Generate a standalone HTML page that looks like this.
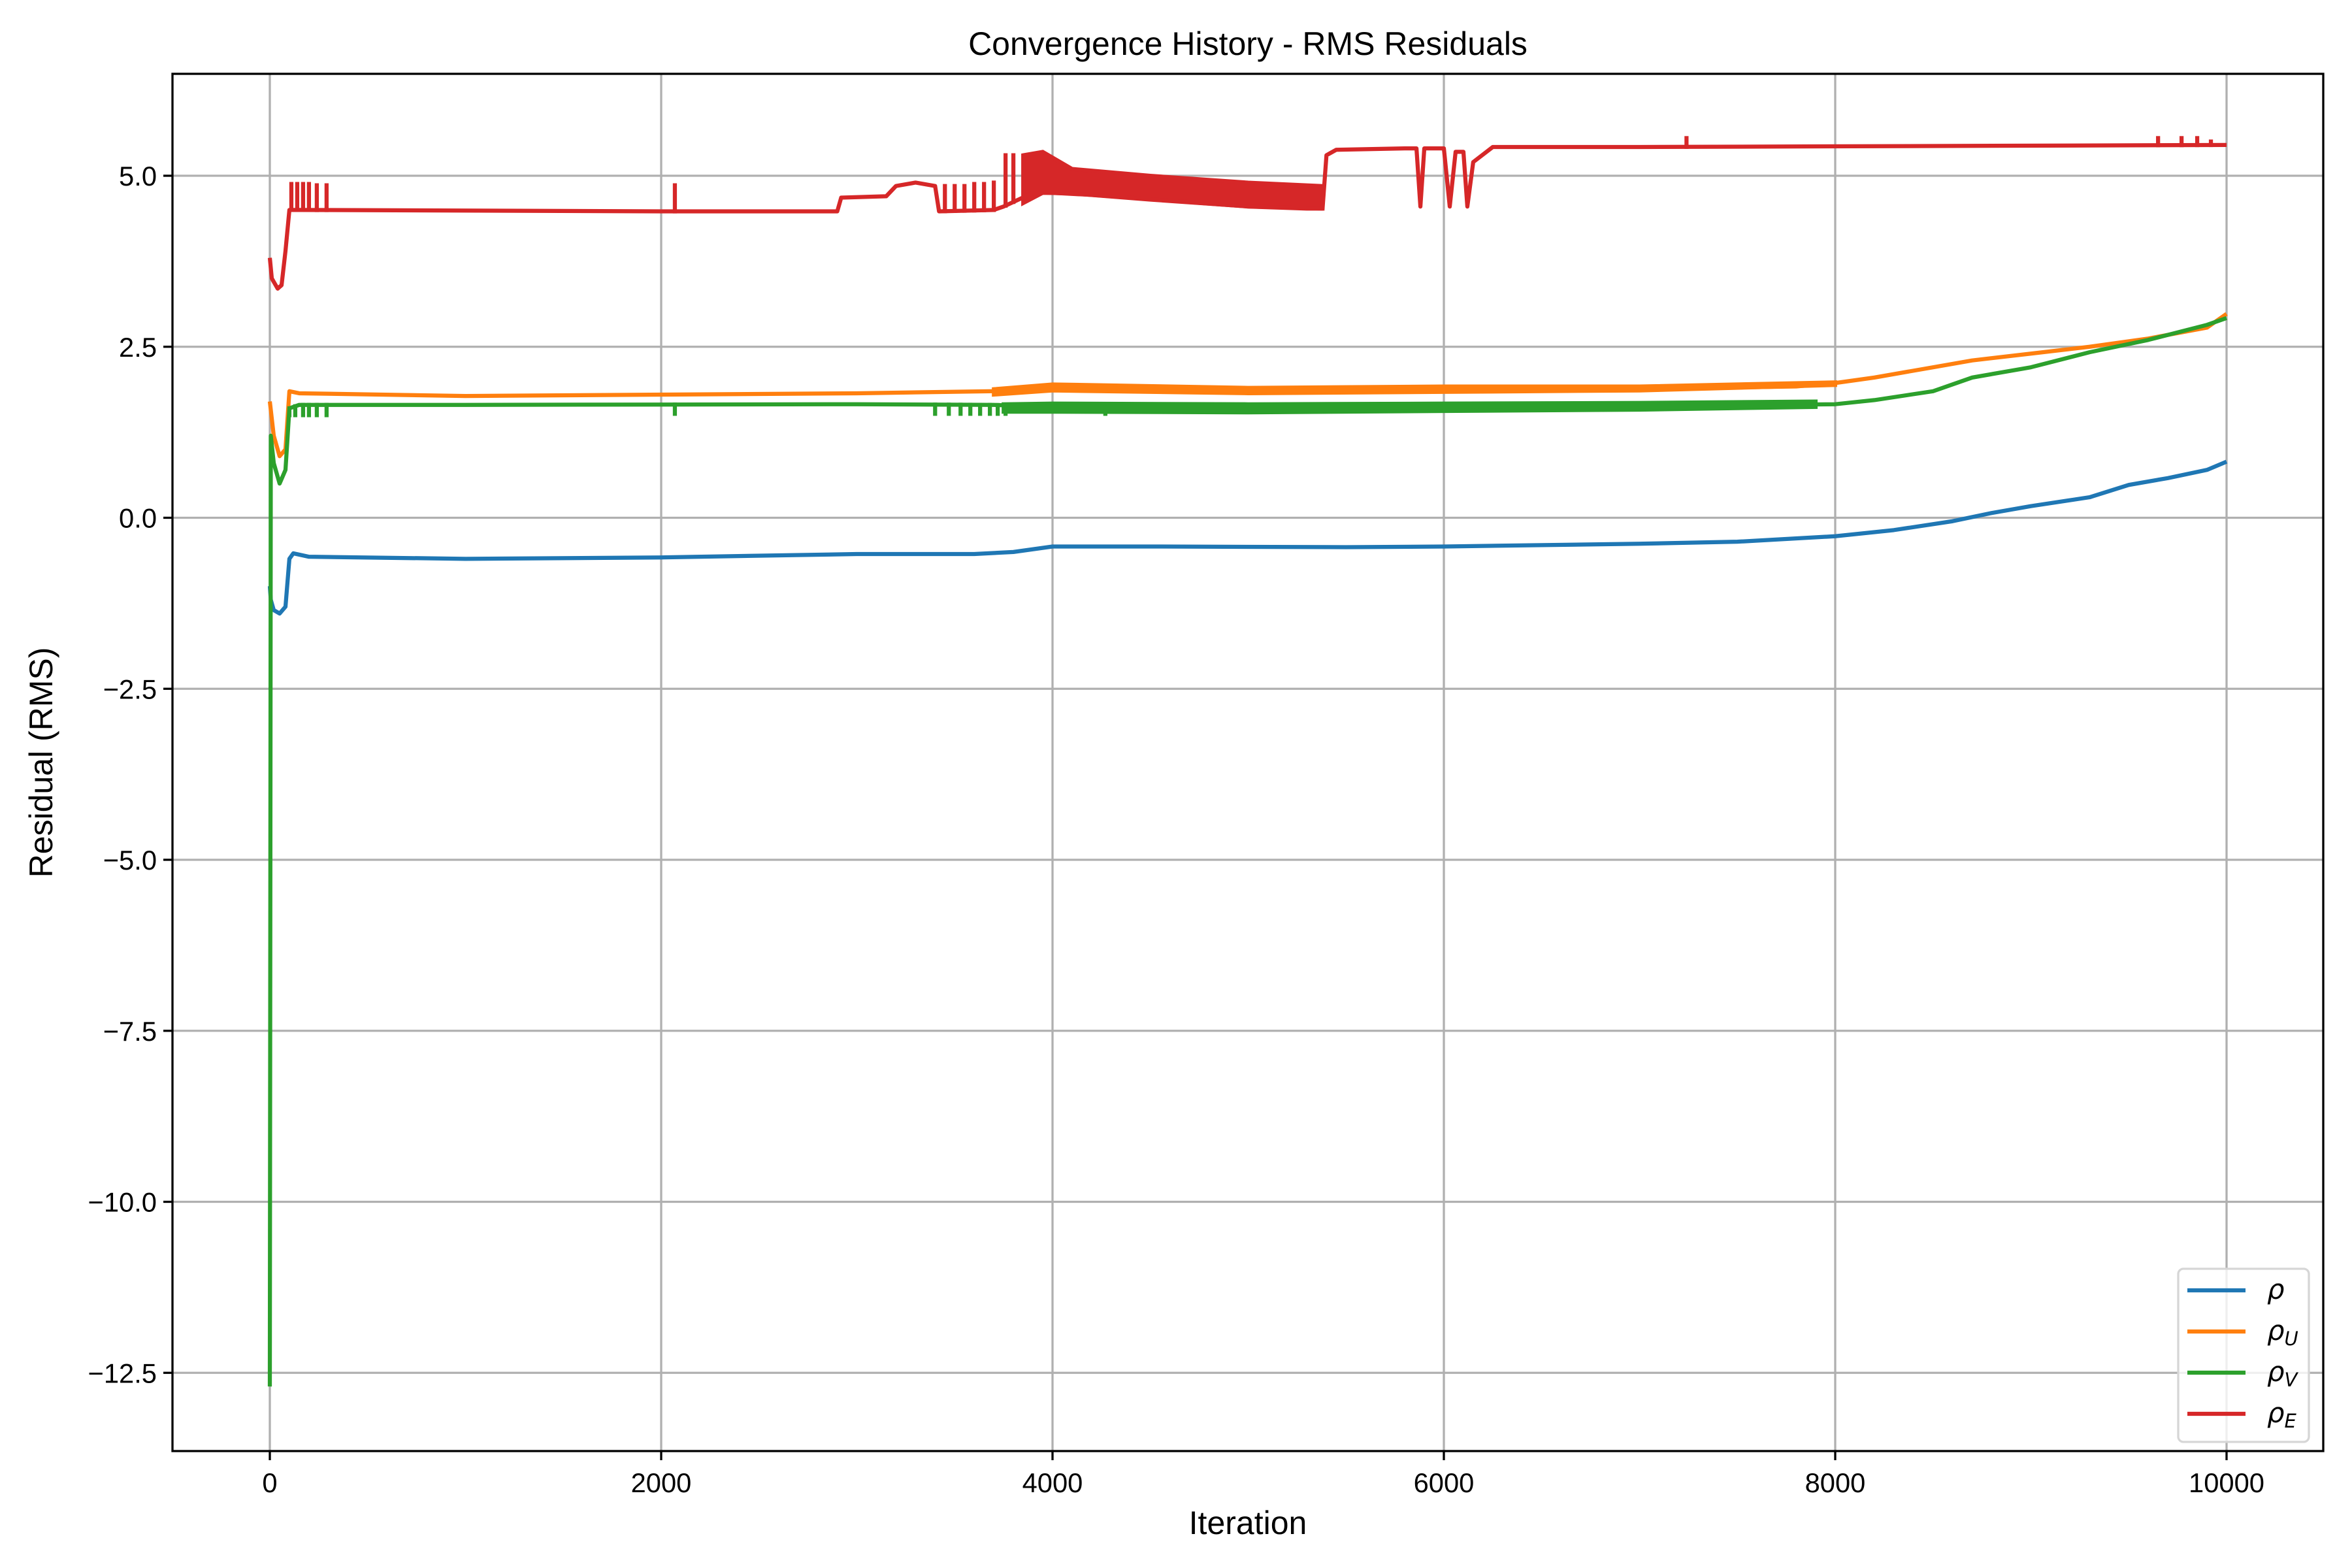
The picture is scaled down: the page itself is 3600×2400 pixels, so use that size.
<!DOCTYPE html>
<html><head><meta charset="utf-8"><style>
html,body{margin:0;padding:0;background:#fff;}
svg{display:block;font-family:"Liberation Sans","DejaVu Sans",sans-serif;}
</style></head><body>
<svg id="chart" width="3600" height="2400" viewBox="0 0 3600 2400" xmlns="http://www.w3.org/2000/svg">
<rect x="0" y="0" width="3600" height="2400" fill="#fff"/>
<g id="grid"></g>
<g id="marks"></g>
<g id="axes"></g>
<text x="1910" y="84" font-size="50" text-anchor="middle">Convergence History - RMS Residuals</text>
<text x="1910" y="2348" font-size="50" text-anchor="middle">Iteration</text>
<text x="80" y="1167" font-size="50" text-anchor="middle" transform="rotate(-90 80 1167)">Residual (RMS)</text>
<g id="legend"></g>
</svg>
<script>
const xTicks = [0, 2000, 4000, 6000, 8000, 10000];
const xTickLabels = ["0", "2000", "4000", "6000", "8000", "10000"];
const yTicks = [5.0, 2.5, 0.0, -2.5, -5.0, -7.5, -10.0, -12.5];
const yTickLabels = ["5.0", "2.5", "0.0", "\u22122.5", "\u22125.0", "\u22127.5", "\u221210.0", "\u221212.5"];
const seriesNames = ["\u03C1", "\u03C1U", "\u03C1V", "\u03C1E"];

const rhoIter = [0, 5, 20, 50, 80, 100, 120, 200, 1000, 2000, 3000, 3600, 3800, 4000, 4500, 5500, 6000, 7000, 7500, 8000, 8300, 8600, 8800, 9000, 9300, 9500, 9700, 9900, 10000];
const rhoVal  = [-1.0, -1.2, -1.35, -1.4, -1.3, -0.6, -0.52, -0.57, -0.6, -0.58, -0.53, -0.53, -0.5, -0.42, -0.42, -0.43, -0.42, -0.38, -0.35, -0.27, -0.18, -0.05, 0.07, 0.17, 0.3, 0.48, 0.58, 0.7, 0.82];

const rhoUIter = [0, 20, 50, 80, 100, 150, 1000, 2000, 3000, 3700, 4000, 4200, 5000, 6000, 7000, 7800, 8000, 8200, 8500, 8700, 9000, 9300, 9600, 9900, 10000];
const rhoUVal  = [1.7, 1.2, 0.9, 1.0, 1.85, 1.82, 1.78, 1.8, 1.82, 1.85, 1.92, 1.9, 1.86, 1.88, 1.88, 1.92, 1.97, 2.05, 2.2, 2.3, 2.4, 2.5, 2.62, 2.78, 2.98];
const rhoUBandIter = [3700, 4000, 5000, 6000, 7000, 8000];
const rhoUBandLow  = [1.80, 1.86, 1.82, 1.84, 1.86, 1.94];
const rhoUBandHigh = [1.88, 1.95, 1.9, 1.92, 1.92, 1.98];

const rhoVIter = [0, 5, 20, 50, 80, 100, 150, 1000, 3000, 3700, 4000, 5000, 6000, 7000, 8000, 8200, 8500, 8700, 9000, 9300, 9600, 9900, 10000];
const rhoVVal  = [-12.7, 1.2, 0.8, 0.5, 0.7, 1.6, 1.65, 1.65, 1.66, 1.65, 1.62, 1.6, 1.62, 1.63, 1.66, 1.72, 1.85, 2.05, 2.2, 2.42, 2.6, 2.82, 2.92];
const rhoVBandIter = [3750, 4000, 5000, 6000, 7000, 7900];
const rhoVBandLow  = [1.55, 1.55, 1.54, 1.56, 1.58, 1.62];
const rhoVBandHigh = [1.66, 1.67, 1.66, 1.67, 1.68, 1.70];
const rhoVSpikeIter = [100, 130, 170, 200, 240, 290, 2070, 3400, 3470, 3530, 3580, 3630, 3680, 3720, 3760, 4270];
const rhoVSpikeTo   = [1.5, 1.5, 1.5, 1.5, 1.5, 1.5, 1.52, 1.52, 1.52, 1.52, 1.52, 1.52, 1.52, 1.52, 1.52, 1.52];

const rhoEIter = [0, 10, 40, 60, 80, 100, 150, 2000, 2900, 2920, 3150, 3200, 3300, 3400, 3420, 3700, 3750, 3900, 4000, 4200, 5000, 5300, 5380, 5400, 5450, 5800, 5860, 5880, 5900, 6000, 6030, 6060, 6100, 6120, 6150, 6250, 7000, 10000];
const rhoEVal  = [3.8, 3.5, 3.35, 3.4, 3.9, 4.5, 4.5, 4.48, 4.48, 4.68, 4.7, 4.85, 4.9, 4.85, 4.48, 4.5, 4.55, 4.75, 4.75, 4.72, 4.55, 4.52, 4.52, 5.3, 5.38, 5.4, 5.4, 4.55, 5.4, 5.4, 4.55, 5.35, 5.35, 4.55, 5.2, 5.42, 5.42, 5.45];
const rhoEBandIter = [3850, 3950, 4100, 4500, 5000, 5380];
const rhoEBandLow  = [4.6, 4.75, 4.74, 4.65, 4.55, 4.52];
const rhoEBandHigh = [5.3, 5.35, 5.1, 5.0, 4.9, 4.85];
const rhoESpikeIter = [110, 140, 170, 200, 240, 290, 2070, 3450, 3500, 3550, 3600, 3650, 3700, 3760, 3800, 7240, 9650, 9770, 9850, 9920];
const rhoESpikeTo   = [4.88, 4.88, 4.88, 4.88, 4.86, 4.86, 4.86, 4.85, 4.85, 4.85, 4.88, 4.88, 4.9, 5.3, 5.3, 5.55, 5.55, 5.55, 5.55, 5.5];

const colors = ["#1f77b4", "#ff7f0e", "#2ca02c", "#d62728"];
const NS = "http://www.w3.org/2000/svg";
const L = 264, R = 3556, T = 113, B = 2221;
function xs(v){ return 413 + v * 0.2995; }
function ys(v){ return 792.5 - v * 104.7; }
function mk(tag, attrs, parent){ const e = document.createElementNS(NS, tag); for (const k in attrs) e.setAttribute(k, attrs[k]); parent.appendChild(e); return e; }
function interp(it, vals, x){ for (let i=1;i<it.length;i++){ if (x<=it[i]){ const t=(x-it[i-1])/(it[i]-it[i-1]); return vals[i-1]+t*(vals[i]-vals[i-1]); } } return vals[vals.length-1]; }

const grid = document.getElementById('grid');
const axes = document.getElementById('axes');
const marks = document.getElementById('marks');
xTicks.forEach((v, i) => {
  const g = mk('line', {x1: xs(v), x2: xs(v), y1: T, y2: B, stroke: '#b0b0b0', 'stroke-width': 3.3}, grid);
  
  
  const t = mk('line', {x1: xs(v), x2: xs(v), y1: B, y2: B + 14, stroke: '#000', 'stroke-width': 3.3}, axes);
  
  
  const tx = mk('text', {x: xs(v), y: B + 63, 'font-size': 41.7, 'text-anchor': 'middle'}, axes);
  tx.textContent = xTickLabels[i];
  
  
});
yTicks.forEach((v, i) => {
  const g = mk('line', {x1: L, x2: R, y1: ys(v), y2: ys(v), stroke: '#b0b0b0', 'stroke-width': 3.3}, grid);
  
  
  const t = mk('line', {x1: L - 14, x2: L, y1: ys(v), y2: ys(v), stroke: '#000', 'stroke-width': 3.3}, axes);
  
  
  const tx = mk('text', {x: L - 24, y: ys(v) + 15, 'font-size': 41.7, 'text-anchor': 'end'}, axes);
  tx.textContent = yTickLabels[i];
  
  
});
const frame = mk('rect', {x: L, y: T, width: R - L, height: B - T, fill: 'none', stroke: '#000', 'stroke-width': 3.3}, axes);



function drawBand(it, lo, hi, color, name){
  let d = 'M' + it.map((x,i)=> xs(x)+','+ys(hi[i])).join(' L');
  d += ' L' + it.map((x,i)=> xs(x)+','+ys(lo[i])).reverse().join(' L') + ' Z';
  const p = mk('path', {d: d, fill: color, stroke: color, 'stroke-width': 6}, marks);
  
  
}
function drawSpikes(it, to, baseIt, baseVal, color, name){
  it.forEach((x, i) => {
    const s = mk('line', {x1: xs(x), x2: xs(x), y1: ys(interp(baseIt, baseVal, x)), y2: ys(to[i]), stroke: color, 'stroke-width': 6.25, 'stroke-linecap': 'square'}, marks);
    
    
  });
}
function drawLine(it, vals, color, name){
  const p = mk('polyline', {points: it.map((x,i)=> xs(x)+','+ys(vals[i])).join(' '), fill: 'none', stroke: color, 'stroke-width': 6.25, 'stroke-linejoin': 'round'}, marks);
  
  
}
drawLine(rhoIter, rhoVal, colors[0], 'series-rho');
drawBand(rhoUBandIter, rhoUBandLow, rhoUBandHigh, colors[1], 'band-rho-u');
drawLine(rhoUIter, rhoUVal, colors[1], 'series-rho-u');
drawBand(rhoVBandIter, rhoVBandLow, rhoVBandHigh, colors[2], 'band-rho-v');
drawSpikes(rhoVSpikeIter, rhoVSpikeTo, rhoVIter, rhoVVal, colors[2], 'spike-rho-v');
drawLine(rhoVIter, rhoVVal, colors[2], 'series-rho-v');
drawBand(rhoEBandIter, rhoEBandLow, rhoEBandHigh, colors[3], 'band-rho-e');
drawSpikes(rhoESpikeIter, rhoESpikeTo, rhoEIter, rhoEVal, colors[3], 'spike-rho-e');
drawLine(rhoEIter, rhoEVal, colors[3], 'series-rho-e');

const leg = document.getElementById('legend');
const box = mk('rect', {x: 3334, y: 1942, width: 200, height: 265, rx: 8, fill: '#fff', 'fill-opacity': 0.8, stroke: '#d6d6d6', 'stroke-width': 3.3}, leg);


const subs = ["", "U", "V", "E"];
seriesNames.forEach((n, i) => {
  const y = 1975 + i * 63;
  const g = mk('g', {}, leg);
  
  
  mk('line', {x1: 3348, x2: 3437, y1: y, y2: y, stroke: colors[i], 'stroke-width': 6.25}, g);
  const t = mk('text', {x: 3470, y: y + 13, 'font-size': 41.7, 'font-style': 'italic', 'font-family': '"DejaVu Sans", sans-serif'}, g);
  t.textContent = '\u03C1';
  if (subs[i]) {
    const s = mk('tspan', {'font-size': 29, dy: 8}, t);
    s.textContent = subs[i];
  }
});
</script>
</body></html>
